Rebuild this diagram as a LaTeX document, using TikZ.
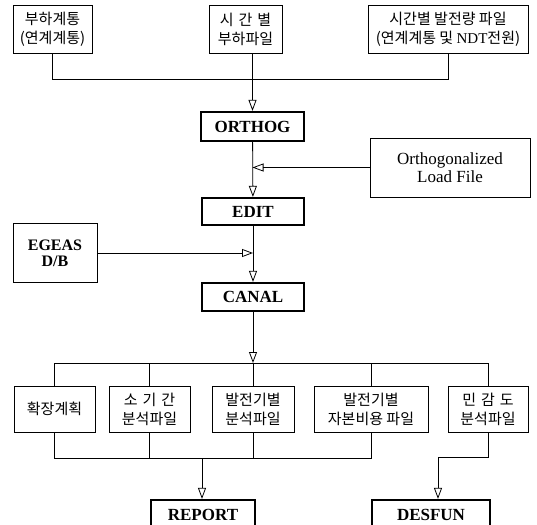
\documentclass[tikz,border=0pt]{standalone}
\usepackage{fontspec}
\setmainfont{Liberation Serif}
\newfontfamily\kr{Noto Sans CJK KR}
\usetikzlibrary{arrows.meta}

\begin{document}
\begin{tikzpicture}[x=1pt,y=-1pt,
kasten/.style={draw, line width=0.8pt, inner sep=0pt, align=center, font=\kr\fontsize{15}{19}\selectfont},
textkasten/.style={kasten, font=\rmfamily\fontsize{17}{18}\selectfont},
dickkasten/.style={kasten, line width=2.2pt, font=\bfseries\fontsize{17}{18}\selectfont},
pfeil/.style={line width=0.8pt, -{Triangle[open,length=11pt,width=8pt]}},
linie/.style={line width=0.8pt},
]
\clip (0,0) rectangle (537,524);

\node[kasten, minimum width=79pt, minimum height=48pt] (last) at (52.5,29) {부하계통\\(연계계통)};
\node[kasten, minimum width=73pt, minimum height=48pt] (zeitlast) at (245.5,29) {시\,\,간\,\,별\\부하파일};
\node[kasten, minimum width=160pt, minimum height=48pt] (erzeugung) at (448,29) {시간별 발전량 파일\\(연계계통 및 {\rmfamily NDT}전원)};

\node[dickkasten, minimum width=103pt, minimum height=29pt] (orthog) at (252.5,126.5) {ORTHOG};
\node[textkasten, minimum width=160pt, minimum height=59pt] (datei) at (450,167.5) {Orthogonalized\\Load File};
\node[dickkasten, minimum width=102pt, minimum height=27pt] (edit) at (253,211.5) {EDIT};
\node[kasten, font=\bfseries\fontsize{16}{16}\selectfont, minimum width=84pt, minimum height=59pt] (egeas) at (55,253) {EGEAS\\D/B};
\node[dickkasten, minimum width=102pt, minimum height=28pt] (canal) at (253,297) {CANAL};

\node[kasten, minimum width=81pt, minimum height=46pt] (r1) at (54.5,409) {확장계획};
\node[kasten, minimum width=81pt, minimum height=46pt] (r2) at (149.5,409) {소\,\,기\,\,간\\분석파일};
\node[kasten, minimum width=82pt, minimum height=46pt] (r3) at (253,409) {발전기별\\분석파일};
\node[kasten, minimum width=114pt, minimum height=46pt] (r4) at (371,409) {발전기별\\자본비용 파일};
\node[kasten, minimum width=80pt, minimum height=46pt] (r5) at (488,409) {민\,\,감\,\,도\\분석파일};

\node[dickkasten, minimum width=104pt, minimum height=30pt] (report) at (203,515) {REPORT};
\node[dickkasten, minimum width=118pt, minimum height=30pt] (desfun) at (431,515) {DESFUN};

\coordinate (sammel) at (253,79);
\coordinate (verteil) at (253,363);
\coordinate (zusammen) at (202,458);
\coordinate (knick) at (438,457);

\draw[linie] (last.south) -- (last.south |- sammel) -- (erzeugung.south |- sammel) -- (erzeugung.south);
\draw[pfeil] (zeitlast.south -| orthog.north) -- (orthog.north);

\draw[pfeil] (orthog) -- (edit);
\draw[pfeil] (datei.west) -- (datei.west -| orthog.south);
\draw[pfeil] (edit) -- (canal);
\draw[pfeil] (egeas.east) -- (egeas.east -| edit.south);
\draw[pfeil] (canal) -- (verteil);

\draw[linie] (r1.north) -- (r1.north |- verteil) -- (r5.north |- verteil) -- (r5.north);
\foreach \k in {r2,r3,r4}
  \draw[linie] (\k.north) -- (\k.north |- verteil);

\draw[linie] (r1.south) -- (r1.south |- zusammen) -- (r4.south |- zusammen) -- (r4.south);
\foreach \k in {r2,r3}
  \draw[linie] (\k.south) -- (\k.south |- zusammen);
\draw[pfeil] (zusammen) -- (zusammen |- report.north);

\draw[pfeil] (r5.south) |- (knick) -- (knick |- desfun.north);

\end{tikzpicture}
\end{document}
